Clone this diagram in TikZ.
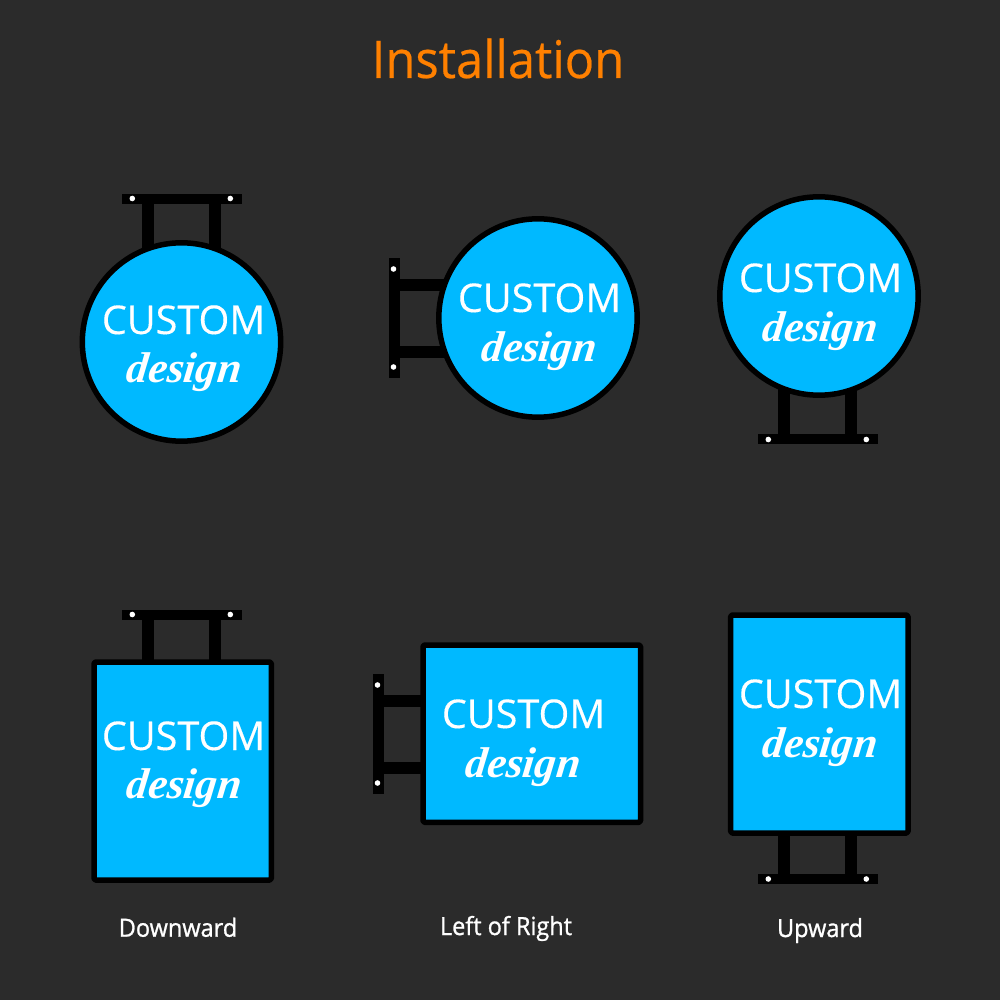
\documentclass[tikz,border=0pt]{standalone}
\usepackage{fontspec}
\setmainfont{Open Sans}
\newfontfamily\scriptish[FakeSlant=0.12]{Liberation Serif}
\newfontfamily\wordfont[FakeBold=0.25]{Open Sans}
\newfontfamily\titlefont[FakeStretch=0.94,FakeBold=0.4]{Open Sans}
\newfontfamily\capfont[FakeStretch=0.94,FakeBold=1]{Open Sans}
\definecolor{bgc}{HTML}{2B2B2B}
\definecolor{signblue}{HTML}{00B9FF}
\definecolor{titleorange}{HTML}{FF8000}
\tikzset{
  px/.style={x=1pt,y=-1pt},
  signshape/.style={draw=black,line width=5.5pt,fill=signblue,line join=round},
  signbox/.style={signshape,rounded corners=1.5pt},
  metal/.style={fill=black,draw=none},
  hole/.style={fill=white,draw=none},
  bigword/.style={text=white,inner sep=0pt,font=\wordfont\fontsize{39.6}{40}\selectfont,anchor=base},
  smallword/.style={text=white,inner sep=0pt,font=\scriptish\bfseries\itshape\fontsize{43}{43}\selectfont,anchor=base},
  caption/.style={text=white,inner sep=0pt,font=\capfont\fontsize{25}{25}\selectfont,anchor=base},
  titletext/.style={text=titleorange,inner sep=0pt,font=\titlefont\fontsize{52}{52}\selectfont,anchor=base}
}
\newcommand{\HBracket}[5]{% x shift, bar top, leg start y, leg end y, hole y
  \fill[metal] (122+#1,#2) rectangle (242+#1,#2+10);
  \fill[metal] (142+#1,#3) rectangle (154+#1,#4);
  \fill[metal] (209+#1,#3) rectangle (221+#1,#4);
  \fill[hole] (132.3+#1,#5) circle (2.8);
  \fill[hole] (230.3+#1,#5) circle (2.8);
}
\newcommand{\VBracket}[3]{% bar left, bar top, arm end x
  \fill[metal] (#1,#2) rectangle (#1+10.5,#2+120);
  \fill[metal] (#1,#2+21) rectangle (#3,#2+33);
  \fill[metal] (#1,#2+88) rectangle (#3,#2+100);
  \fill[hole] (#1+4.5,#2+11) circle (2.8);
  \fill[hole] (#1+4.5,#2+109) circle (2.8);
}
\begin{document}
\begin{tikzpicture}[px]
\useasboundingbox (0,0) rectangle (1000,1000);
\fill[bgc] (0,0) rectangle (1000,1000);
\node[titletext] (title) at (498,78) {Installation};

% brackets
\HBracket{0}{194}{200}{252}{198.5}
\VBracket{389}{258}{447}
\HBracket{636}{434}{388}{436}{439.5}
\HBracket{0}{610}{615}{662}{614.5}
\VBracket{373}{674}{422}
\HBracket{636}{874}{832}{876}{879}

% signs
\draw[signshape] (181.5,342) circle (99.2);
\draw[signshape] (538,318) circle (99.2);
\draw[signshape] (819,296) circle (99.2);
\draw[signbox] (94,662) rectangle (271.3,880);
\draw[signbox] (423,645) rectangle (640.5,822.3);
\draw[signbox] (730.7,615) rectangle (908,833);

% texts
\node[bigword] (c1) at (183.5,334) {CUSTOM};
\node[smallword] (d1) at (183,382) {design};
\node[bigword] (c2) at (539.5,312) {CUSTOM};
\node[smallword] (d2) at (538,361) {design};
\node[bigword] (c3) at (820.5,292) {CUSTOM};
\node[smallword] (d3) at (819,341) {design};
\node[bigword] (c4) at (183.5,750) {CUSTOM};
\node[smallword] (d4) at (183,798) {design};
\node[bigword] (c5) at (523.5,728) {CUSTOM};
\node[smallword] (d5) at (522,777) {design};
\node[bigword] (c6) at (820.5,708) {CUSTOM};
\node[smallword] (d6) at (819,757) {design};

\node[caption] (l1) at (178,936.7) {Downward};
\node[caption] (l2) at (506,935) {Left of Right};
\node[caption] (l3) at (820,937) {Upward};
\end{tikzpicture}
\end{document}
